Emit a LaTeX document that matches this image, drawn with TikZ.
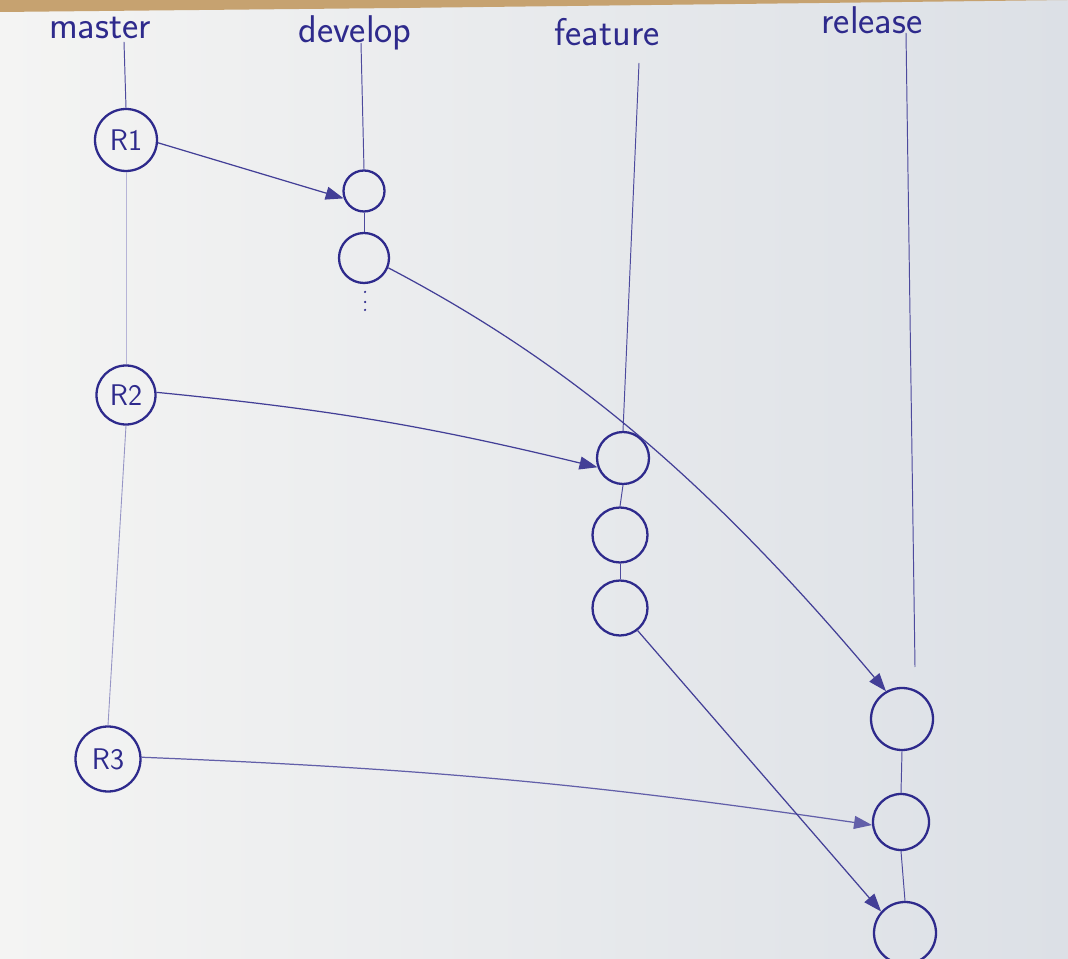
\documentclass[tikz,border=0pt]{standalone}
\usetikzlibrary{arrows.meta}
\definecolor{ink}{RGB}{46,42,140}
\definecolor{paperl}{RGB}{244,244,243}
\definecolor{paperr}{RGB}{220,224,230}
\definecolor{wood}{RGB}{198,162,112}
\tikzset{
  branchlabel/.style={font=\sffamily\fontsize{22}{26}\selectfont, text=ink},
  tagnode/.style={circle, draw=ink, line width=1.3pt, inner sep=0pt, minimum size=1.24cm, font=\sffamily\fontsize{17}{20}\selectfont, text=ink},
  commit/.style={circle, draw=ink, line width=1.3pt, inner sep=0pt, minimum size=1.1cm},
  lifeline/.style={draw=ink!85, line width=0.55pt},
  faintline/.style={draw=ink!35, line width=0.5pt},
  mergearrow/.style={draw=ink!90, line width=0.7pt, -{Triangle[length=3.6mm, width=2.6mm]}},
}
\begin{document}
\begin{tikzpicture}
\useasboundingbox (0,0) rectangle (21.36,19.16);
\shade[left color=paperl, right color=paperr] (0,0) rectangle (21.36,19.16);
\fill[wood] (0,19.16) -- (0,18.92) -- (8.000,19.000) -- (16.400,19.100) -- (21.36,19.16) -- cycle;
\node[branchlabel] (lmaster) at (2.000,18.600) {master};
\node[branchlabel] (ldevelop) at (7.100,18.500) {develop};
\node[branchlabel] (lfeature) at (12.140,18.520) {feature};
\node[branchlabel] (lrelease) at (17.440,18.760) {release};
\node[tagnode] (R1) at (2.520,16.360) {R1};
\node[tagnode, minimum size=1.18cm] (R2) at (2.520,11.260) {R2};
\node[tagnode, minimum size=1.30cm] (R3) at (2.160,3.980) {R3};
\node[commit, minimum size=0.82cm] (dev1) at (7.280,15.340) {};
\node[commit, minimum size=1.00cm] (dev2) at (7.280,14.000) {};
\node[commit, minimum size=1.04cm] (feat1) at (12.460,10.000) {};
\node[commit] (feat2) at (12.400,8.460) {};
\node[commit] (feat3) at (12.400,7.000) {};
\node[commit, minimum size=1.24cm] (rel1) at (18.040,4.780) {};
\node[commit, minimum size=1.12cm] (rel2) at (18.020,2.720) {};
\node[commit, minimum size=1.24cm] (rel3) at (18.100,0.500) {};
\coordinate (mtop) at (2.480,18.320);
\coordinate (dtop) at (7.220,18.300);
\coordinate (ftop) at (12.780,17.900);
\coordinate (rtop) at (18.120,18.500);
\coordinate (rend) at (18.300,5.820);
\draw[lifeline] (mtop) -- (R1.north);
\draw[faintline] (R1.south) -- (R2.north);
\draw[faintline, draw=ink!50] (R2.south) -- (R3.north);
\draw[lifeline] (dtop) -- (dev1.north);
\draw[lifeline] (dev1.south) -- (dev2.north);
\draw[lifeline] (ftop) -- (feat1.north);
\draw[lifeline] (feat1.south) -- (feat2.north);
\draw[lifeline] (feat2.south) -- (feat3.north);
\draw[lifeline] (rtop) -- (rend);
\draw[lifeline] (rel1.south) -- (rel2.north);
\draw[lifeline] (rel2.south) -- (rel3.north);
\foreach \y in {13.320,13.120,12.960}
  \fill[ink] (7.300,\y) circle (0.025);
\draw[mergearrow] (R1.-5) -- (dev1.200);
\draw[mergearrow] (dev2.-22) .. controls (11.200,12.000) and (14.000,9.760) .. (rel1.120);
\draw[mergearrow] (R2.5) to[bend left=4] (feat1.200);
\draw[mergearrow, draw=ink!75] (R3.3) to[bend left=3] (rel2.186);
\draw[mergearrow] (feat3.-52) -- (rel3.138);
\end{tikzpicture}
\end{document}
